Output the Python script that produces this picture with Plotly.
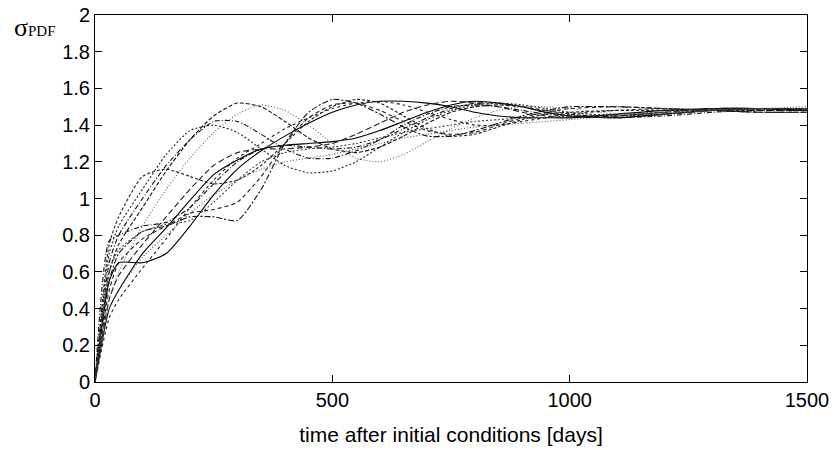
import plotly.graph_objects as go

# time axis (days)
days = [0, 30, 50, 100, 150, 200, 250, 300, 350, 400, 450, 500, 550, 600, 650,
        700, 750, 800, 850, 900, 950, 1000, 1100, 1200, 1300, 1400, 1500]

run01 = [0, 0.40, 0.50, 0.70, 0.84, 0.99, 1.13, 1.21, 1.27, 1.29, 1.30, 1.31, 1.33, 1.37, 1.42, 1.47, 1.51, 1.53, 1.52, 1.50, 1.47, 1.45, 1.44, 1.46, 1.48, 1.49, 1.49]
run02 = [0, 0.55, 0.65, 0.65, 0.70, 0.85, 1.02, 1.16, 1.26, 1.34, 1.41, 1.47, 1.51, 1.53, 1.53, 1.52, 1.50, 1.47, 1.45, 1.44, 1.44, 1.44, 1.46, 1.48, 1.49, 1.49, 1.48]
run03 = [0, 0.60, 0.75, 0.95, 1.15, 1.32, 1.45, 1.52, 1.50, 1.42, 1.33, 1.27, 1.25, 1.28, 1.34, 1.41, 1.47, 1.50, 1.51, 1.50, 1.48, 1.46, 1.44, 1.46, 1.48, 1.49, 1.48]
run04 = [0, 0.45, 0.60, 0.85, 1.05, 1.22, 1.36, 1.46, 1.51, 1.48, 1.40, 1.30, 1.22, 1.20, 1.24, 1.31, 1.38, 1.44, 1.48, 1.50, 1.50, 1.49, 1.46, 1.46, 1.48, 1.49, 1.49]
run05 = [0, 0.70, 0.85, 1.05, 1.24, 1.37, 1.40, 1.36, 1.27, 1.18, 1.14, 1.15, 1.20, 1.28, 1.36, 1.43, 1.48, 1.51, 1.52, 1.51, 1.49, 1.47, 1.45, 1.46, 1.48, 1.49, 1.49]
run06 = [0, 0.65, 0.80, 1.00, 1.18, 1.32, 1.42, 1.42, 1.35, 1.27, 1.22, 1.22, 1.26, 1.32, 1.40, 1.46, 1.50, 1.51, 1.50, 1.48, 1.46, 1.45, 1.45, 1.47, 1.49, 1.49, 1.48]
run07 = [0, 0.75, 0.90, 1.12, 1.16, 1.12, 1.08, 1.10, 1.18, 1.30, 1.42, 1.50, 1.54, 1.52, 1.45, 1.38, 1.34, 1.35, 1.39, 1.43, 1.46, 1.47, 1.48, 1.48, 1.48, 1.48, 1.48]
run08 = [0, 0.55, 0.70, 0.82, 0.85, 0.90, 0.90, 0.88, 1.05, 1.30, 1.47, 1.54, 1.52, 1.46, 1.39, 1.34, 1.34, 1.37, 1.41, 1.45, 1.48, 1.50, 1.50, 1.49, 1.48, 1.47, 1.47]
run09 = [0, 0.50, 0.65, 0.78, 0.85, 0.92, 0.94, 0.98, 1.12, 1.30, 1.44, 1.51, 1.52, 1.48, 1.42, 1.37, 1.35, 1.36, 1.40, 1.44, 1.47, 1.49, 1.50, 1.49, 1.48, 1.47, 1.47]
run10 = [0, 0.40, 0.50, 0.68, 0.80, 0.92, 1.02, 1.10, 1.16, 1.20, 1.22, 1.24, 1.27, 1.30, 1.33, 1.35, 1.37, 1.39, 1.40, 1.41, 1.42, 1.43, 1.45, 1.47, 1.48, 1.49, 1.50]
run11 = [0, 0.45, 0.58, 0.75, 0.90, 1.05, 1.18, 1.25, 1.27, 1.27, 1.28, 1.30, 1.35, 1.41, 1.47, 1.51, 1.53, 1.52, 1.50, 1.47, 1.45, 1.44, 1.45, 1.47, 1.49, 1.49, 1.48]
run12 = [0, 0.77, 0.80, 0.85, 0.87, 0.95, 1.08, 1.20, 1.27, 1.29, 1.28, 1.27, 1.28, 1.32, 1.38, 1.44, 1.49, 1.52, 1.52, 1.50, 1.47, 1.45, 1.44, 1.45, 1.47, 1.48, 1.48]
run13 = [0, 0.60, 0.72, 0.82, 0.86, 0.88, 0.98, 1.10, 1.20, 1.25, 1.27, 1.28, 1.30, 1.33, 1.36, 1.38, 1.40, 1.42, 1.43, 1.44, 1.44, 1.45, 1.46, 1.47, 1.48, 1.49, 1.49]
run14 = [0, 0.35, 0.45, 0.62, 0.78, 0.95, 1.10, 1.22, 1.30, 1.38, 1.44, 1.49, 1.52, 1.53, 1.51, 1.47, 1.43, 1.40, 1.40, 1.42, 1.44, 1.46, 1.48, 1.49, 1.48, 1.47, 1.47]

runs = [run01, run02, run03, run04, run05, run06, run07,
        run08, run09, run10, run11, run12, run13, run14]
dashes = ["solid", "solid", "4px,2px", "1px,2px", "2px,2px", "5px,2px,1px,2px", "3px,2px",
          "6px,2px,2px,2px", "4px,3px", "1px,2px", "6px,3px", "5px,2px,1px,2px", "2px,2px", "3px,3px"]
colors = ["#000", "#000", "#111", "#666", "#222", "#111", "#222",
          "#111", "#222", "#555", "#222", "#111", "#444", "#222"]

x_ticks = [0, 500, 1000, 1500]
y_ticks = [0, 0.2, 0.4, 0.6, 0.8, 1, 1.2, 1.4, 1.6, 1.8, 2]
y_tick_text = ["0", "0.2", "0.4", "0.6", "0.8", "1", "1.2", "1.4", "1.6", "1.8", "2"]

fig = go.Figure()
for r, d, c in zip(runs, dashes, colors):
    fig.add_trace(go.Scatter(x=days, y=r, mode="lines",
                             line=dict(color=c, width=1.1, dash=d, shape="spline", smoothing=0.6),
                             showlegend=False, hoverinfo="skip"))

axis_common = dict(showline=True, linecolor="black", linewidth=1, mirror="ticks",
                   ticks="inside", ticklen=7, tickcolor="black", showgrid=False,
                   zeroline=False, automargin=False,
                   tickfont=dict(family="Liberation Sans", size=20, color="black"))

fig.update_xaxes(range=[0, 1500], tickvals=x_ticks, ticktext=[str(v) for v in x_ticks],
                 title=dict(text="time after initial conditions [days]",
                            font=dict(family="Liberation Sans", size=21, color="black"), standoff=17),
                 **axis_common)
fig.update_yaxes(range=[0, 2], tickvals=y_ticks, ticktext=y_tick_text, **axis_common)

fig.add_annotation(xref="paper", yref="paper", x=-(95 - 58) / 713, y=(382 - 28) / 367,
                   xanchor="right", yanchor="middle", showarrow=False,
                   text="σ<span style='font-size:15px'>PDF</span>",
                   font=dict(family="Liberation Serif", size=26, color="black"))

fig.update_layout(width=838, height=450, margin=dict(l=95, r=31, t=15, b=68),
                  plot_bgcolor="white", paper_bgcolor="white")

fig.write_html("out.html")
